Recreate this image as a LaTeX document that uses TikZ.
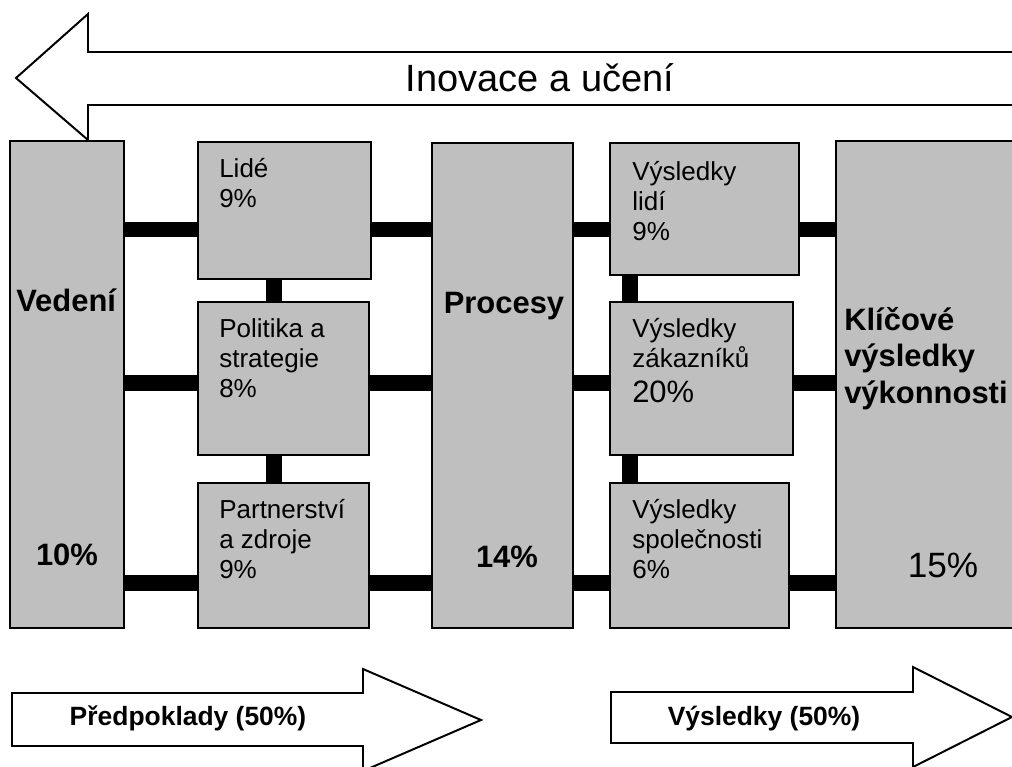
\documentclass[tikz,border=0pt]{standalone}
\usepackage{fontspec}
\setmainfont{Liberation Sans}
\usetikzlibrary{fit}

\begin{document}
\begin{tikzpicture}[x=0.025cm,y=-0.025cm,
    box/.style={draw,line width=1.4pt,fill=gray!50,inner sep=0pt},
    bar/.style={line width=10.7pt},
    outline/.style={draw,line width=1.4pt,fill=white},
    txt/.style={anchor=north west,inner sep=0pt,align=left,font=\fontsize{18.5}{21.3}\selectfont},
    big/.style={inner sep=0pt,font=\fontsize{22}{26}\selectfont\bfseries}]
    \useasboundingbox (0,0) rectangle (1012,767);
    \clip (0,0) rectangle (1012,767);
    %top arrow
    \draw [outline] (1030,52) -- (88,52) -- (88,14) -- (16,78) -- (88,140) -- (88,105) -- (1030,105);
    \node [anchor=base,inner sep=0pt,font=\fontsize{27}{32}\selectfont] (inovace) at (540,92) {Inovace a učení};
    %boxes
    \node [box,fit={(10,141) (124,628)}] (vedeni) {};
    \node [box,fit={(198,142) (371,279)}] (lide) {};
    \node [box,fit={(198,302) (369,455)}] (politika) {};
    \node [box,fit={(198,483) (369,628)}] (partner) {};
    \node [box,fit={(432,143) (573,628)}] (procesy) {};
    \node [box,fit={(610,143) (799,275)}] (vlidi) {};
    \node [box,fit={(610,302) (793,455)}] (vzakaz) {};
    \node [box,fit={(610,483) (789,628)}] (vspol) {};
    \node [box,fit={(836,141) (1040,628)}] (klic) {};
    %bars
    \foreach \r/\a/\b in {229.5/lide/vlidi,383/politika/vzakaz,583/partner/vspol}{
      \coordinate (row) at (0,\r);
      \draw [bar] (vedeni.east |- row) -- (\a.west |- row)
                  (\a.east |- row) -- (procesy.west |- row)
                  (procesy.east |- row) -- (\b.west |- row)
                  (\b.east |- row) -- (klic.west |- row);
    }
    \coordinate (c1) at (274,0);
    \coordinate (c2) at (630,0);
    \draw [bar] (lide.south -| c1) -- (politika.north -| c1)
                (politika.south -| c1) -- (partner.north -| c1)
                (vlidi.south -| c2) -- (vzakaz.north -| c2)
                (vzakaz.south -| c2) -- (vspol.north -| c2);
    %texts
    \node [big,anchor=base west] (vedtxt) at (16,312) {Vedení};
    \node [big,anchor=base] (vedpct) at (67,565) {10\%};
    \node [txt] (lidetxt) at (219,158) {Lidé\\9\%};
    \node [txt] (poltxt) at (219,318) {Politika a\\strategie\\8\%};
    \node [txt] (partxt) at (219,499) {Partnerství\\a zdroje\\9\%};
    \node [big,anchor=base] (proctxt) at (504,313) {Procesy};
    \node [big,anchor=base] (procpct) at (507,567) {14\%};
    \node [txt] (vlidtxt) at (632,161) {Výsledky\\lidí\\9\%};
    \node [txt] (vzaktxt) at (632,318) {Výsledky\\zákazníků};
    \node [anchor=base west,inner sep=0pt,font=\fontsize{22}{26}\selectfont] (vzakpct) at (632,402) {20\%};
    \node [txt] (vspoltxt) at (632,499) {Výsledky\\společnosti\\6\%};
    \node [big,anchor=north west,align=left] (klictxt) at (844,307) {Klíčové\\výsledky\\výkonnosti};
    \node [anchor=base,inner sep=0pt,font=\fontsize{25}{30}\selectfont] (klicpct) at (943,577) {15\%};
    %bottom arrows
    \draw [outline] (12,693) -- (363,693) -- (363,669) -- (481,720) -- (363,771) -- (363,746) -- (12,746) -- cycle;
    \node [anchor=base,inner sep=0pt,font=\fontsize{18.8}{22}\selectfont\bfseries] (predp) at (188,725) {Předpoklady (50\%)};
    \draw [outline] (611,692) -- (913,692) -- (913,667) -- (1012,717) -- (913,767) -- (913,743) -- (611,743) -- cycle;
    \node [anchor=base,inner sep=0pt,font=\fontsize{18.8}{22}\selectfont\bfseries] (vysl) at (764,725) {Výsledky (50\%)};
  \end{tikzpicture}
\end{document}
